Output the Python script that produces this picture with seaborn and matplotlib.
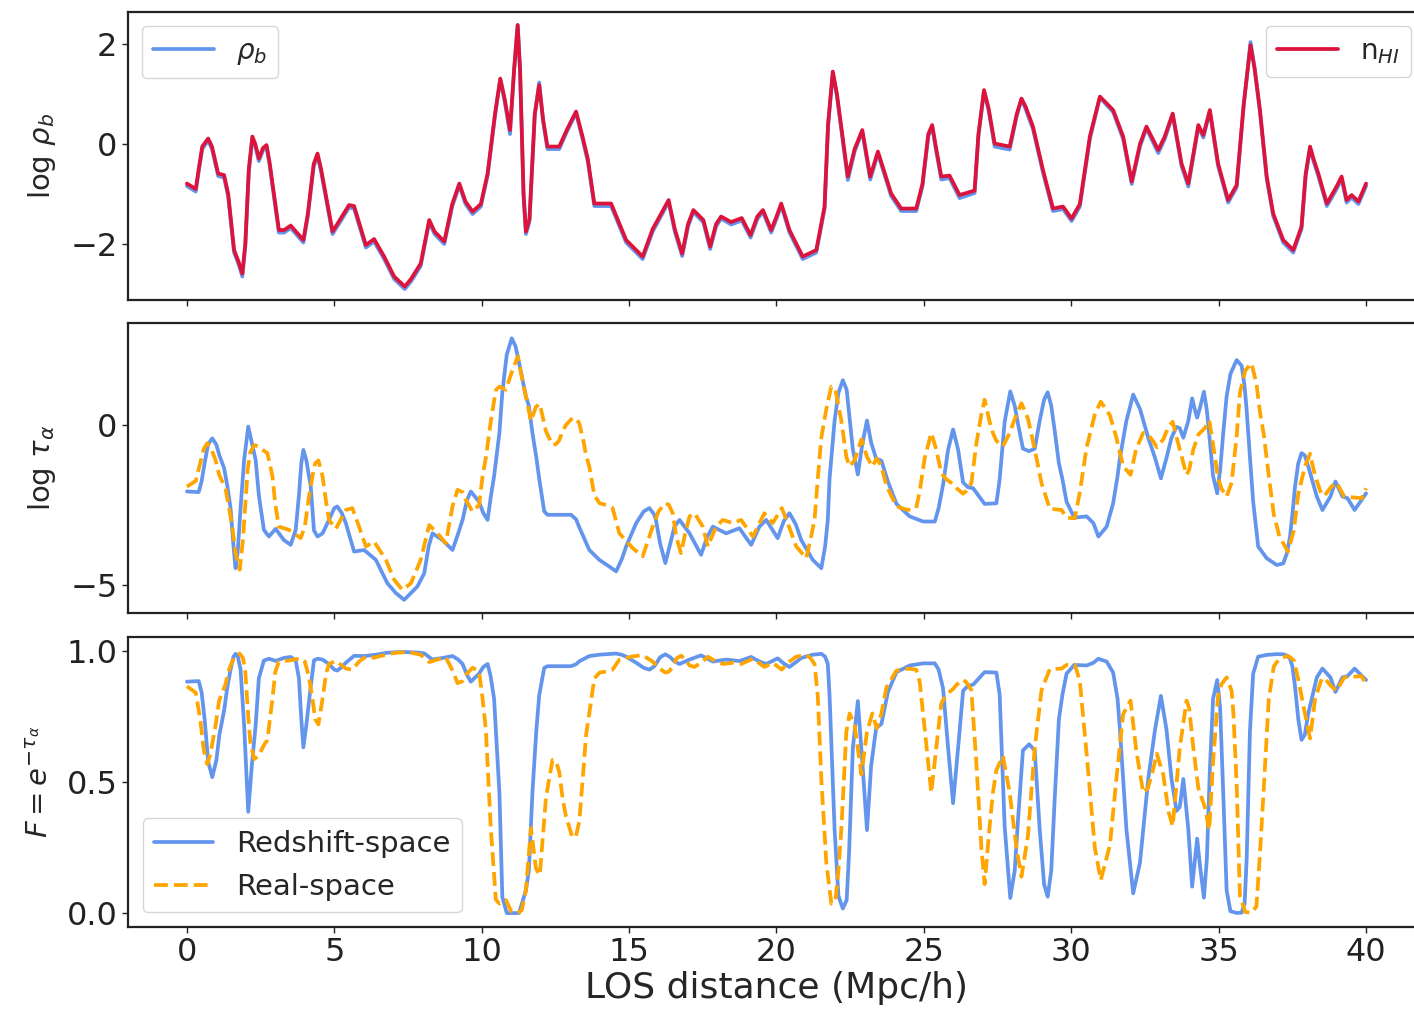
import numpy as np
import matplotlib
matplotlib.use("Agg")
import matplotlib.pyplot as plt
import seaborn as sns

# ---------------- data ----------------
# Line-of-sight positions (Mpc/h) for the density panel
nhi_x = [0.0, 0.3, 0.4, 0.52, 0.72, 0.85, 1.06, 1.26, 1.4, 1.6,
         1.75, 1.88, 1.98, 2.1, 2.22, 2.32, 2.44, 2.58, 2.7, 2.8,
         3.12, 3.3, 3.52, 3.7, 3.95, 4.1, 4.3, 4.43, 4.55, 4.94,
         5.1, 5.5, 5.67, 6.07, 6.35, 6.69, 7.03, 7.39, 7.6, 7.93,
         8.22, 8.4, 8.73, 9.0, 9.24, 9.45, 9.69, 9.97, 10.2, 10.45,
         10.63, 10.78, 10.96, 11.1, 11.22, 11.3, 11.42, 11.5, 11.62, 11.8,
         11.95, 12.08, 12.23, 12.63, 12.9, 13.2, 13.42, 13.6, 13.82, 14.39,
         14.9, 15.46, 15.8, 16.34, 16.55, 16.8, 17.0, 17.18, 17.52, 17.75,
         17.95, 18.12, 18.46, 18.82, 19.12, 19.35, 19.54, 19.82, 20.0, 20.16,
         20.3, 20.44, 20.89, 21.35, 21.63, 21.75, 21.91, 22.05, 22.42, 22.65,
         22.91, 23.05, 23.18, 23.44, 23.89, 24.23, 24.74, 24.95, 25.15, 25.28,
         25.42, 25.59, 25.87, 26.21, 26.72, 26.85, 27.04, 27.2, 27.4, 27.91,
         28.15, 28.31, 28.45, 28.7, 29.04, 29.38, 29.72, 30.01, 30.29, 30.63,
         30.97, 31.42, 31.76, 32.05, 32.33, 32.55, 32.95, 33.17, 33.44, 33.74,
         33.97, 34.31, 34.48, 34.7, 34.98, 35.32, 35.61, 35.85, 36.08, 36.22,
         36.4, 36.63, 36.85, 37.19, 37.53, 37.81, 37.95, 38.1, 38.22, 38.38,
         38.67, 39.0, 39.17, 39.34, 39.51, 39.74, 40.0]

# log neutral hydrogen density
log_nhi = [-0.79, -0.90, -0.50, -0.05, 0.11, -0.05, -0.59, -0.62, -1.00, -2.12,
           -2.35, -2.59, -2.00, -0.50, 0.15, 0.00, -0.29, -0.08, -0.02, -0.35,
           -1.72, -1.72, -1.63, -1.75, -1.92, -1.40, -0.40, -0.19, -0.50, -1.75,
           -1.60, -1.22, -1.24, -2.02, -1.90, -2.25, -2.65, -2.85, -2.70, -2.39,
           -1.52, -1.75, -1.95, -1.20, -0.79, -1.15, -1.35, -1.20, -0.59, 0.60,
           1.31, 0.90, 0.28, 1.50, 2.38, 1.50, -1.00, -1.75, -1.50, 0.60,
           1.18, 0.50, -0.05, -0.05, 0.30, 0.65, 0.15, -0.30, -1.19, -1.19,
           -1.92, -2.25, -1.70, -1.12, -1.70, -2.19, -1.60, -1.32, -1.52, -2.05,
           -1.60, -1.45, -1.56, -1.48, -1.82, -1.45, -1.32, -1.72, -1.45, -1.19,
           -1.45, -1.72, -2.25, -2.12, -1.25, 0.40, 1.45, 1.00, -0.65, -0.10,
           0.28, -0.20, -0.65, -0.15, -0.99, -1.29, -1.29, -0.80, 0.20, 0.38,
           -0.10, -0.65, -0.63, -1.02, -0.93, 0.20, 1.08, 0.70, 0.01, -0.05,
           0.60, 0.91, 0.75, 0.35, -0.52, -1.29, -1.25, -1.49, -1.20, 0.15,
           0.95, 0.68, 0.15, -0.75, 0.00, 0.35, -0.12, 0.15, 0.61, -0.39,
           -0.79, 0.38, 0.18, 0.68, -0.39, -1.12, -0.82, 0.80, 1.98, 1.50,
           0.68, -0.65, -1.39, -1.92, -2.12, -1.65, -0.60, -0.05, -0.30, -0.59,
           -1.19, -0.85, -0.65, -1.12, -1.02, -1.15, -0.79]

# log baryon density
log_rho = [-0.84, -0.95, -0.55, -0.10, 0.07, -0.10, -0.64, -0.67, -1.05, -2.17,
           -2.40, -2.65, -2.05, -0.55, 0.11, -0.05, -0.34, -0.13, -0.06, -0.40,
           -1.77, -1.77, -1.68, -1.80, -1.97, -1.45, -0.45, -0.23, -0.55, -1.80,
           -1.65, -1.27, -1.29, -2.07, -1.95, -2.30, -2.70, -2.90, -2.75, -2.44,
           -1.56, -1.80, -2.00, -1.25, -0.83, -1.20, -1.40, -1.25, -0.63, 0.56,
           1.29, 0.85, 0.20, 1.48, 2.38, 1.48, -1.05, -1.80, -1.55, 0.58,
           1.23, 0.47, -0.10, -0.10, 0.26, 0.62, 0.10, -0.35, -1.24, -1.24,
           -1.97, -2.30, -1.75, -1.16, -1.75, -2.24, -1.65, -1.36, -1.57, -2.10,
           -1.65, -1.49, -1.61, -1.53, -1.87, -1.50, -1.36, -1.77, -1.50, -1.23,
           -1.50, -1.77, -2.30, -2.17, -1.30, 0.36, 1.42, 0.96, -0.72, -0.15,
           0.25, -0.25, -0.71, -0.19, -1.04, -1.34, -1.34, -0.85, 0.16, 0.35,
           -0.15, -0.71, -0.68, -1.08, -0.98, 0.15, 1.06, 0.66, -0.05, -0.11,
           0.56, 0.89, 0.70, 0.30, -0.57, -1.34, -1.30, -1.54, -1.25, 0.10,
           0.93, 0.64, 0.10, -0.80, -0.05, 0.31, -0.18, 0.10, 0.58, -0.44,
           -0.85, 0.34, 0.13, 0.65, -0.44, -1.17, -0.87, 0.78, 2.04, 1.52,
           0.64, -0.70, -1.44, -1.97, -2.17, -1.70, -0.65, -0.09, -0.35, -0.64,
           -1.24, -0.90, -0.70, -1.17, -1.07, -1.20, -0.84]

# Optical depth (natural log) in redshift space
rs_x = [0.0, 0.4, 0.5, 0.6, 0.72, 0.86, 1.0, 1.1, 1.26, 1.37,
        1.48, 1.58, 1.65, 1.72, 1.82, 1.94, 2.08, 2.2, 2.33, 2.44,
        2.61, 2.78, 3.01, 3.29, 3.52, 3.69, 3.8, 3.88, 3.95, 4.05,
        4.2, 4.31, 4.43, 4.6, 4.82, 5.0, 5.1, 5.25, 5.39, 5.67,
        6.01, 6.41, 6.8, 7.09, 7.37, 7.82, 8.05, 8.2, 8.33, 8.67,
        9.01, 9.2, 9.35, 9.5, 9.63, 9.91, 10.05, 10.2, 10.3, 10.42,
        10.6, 10.7, 10.85, 11.02, 11.15, 11.27, 11.5, 11.6, 11.72, 11.85,
        11.95, 12.12, 12.23, 13.03, 13.2, 13.31, 13.65, 13.99, 14.33, 14.56,
        14.75, 14.9, 15.24, 15.5, 15.69, 15.85, 15.91, 16.05, 16.23, 16.4,
        16.54, 16.71, 17.05, 17.44, 17.65, 17.84, 18.29, 18.74, 19.14, 19.42,
        19.65, 20.04, 20.25, 20.44, 20.65, 20.84, 21.23, 21.52, 21.65, 21.74,
        21.8, 21.97, 22.1, 22.25, 22.38, 22.46, 22.59, 22.76, 22.91, 23.07,
        23.21, 23.38, 23.56, 23.78, 24.07, 24.52, 24.97, 25.37, 25.5, 25.65,
        25.82, 25.99, 26.16, 26.33, 26.5, 26.67, 27.06, 27.46, 27.57, 27.74,
        27.93, 28.08, 28.2, 28.36, 28.57, 28.76, 28.93, 29.08, 29.2, 29.32,
        29.44, 29.58, 29.7, 29.84, 30.1, 30.52, 30.75, 30.92, 31.2, 31.42,
        31.57, 31.65, 31.87, 32.1, 32.33, 32.61, 32.84, 33.04, 33.23, 33.4,
        33.57, 33.68, 33.8, 33.97, 34.1, 34.2, 34.27, 34.37, 34.5, 34.6,
        34.7, 34.81, 34.95, 35.05, 35.16, 35.27, 35.4, 35.61, 35.78, 35.88,
        35.95, 36.06, 36.17, 36.34, 36.63, 36.97, 37.19, 37.32, 37.42, 37.5,
        37.59, 37.7, 37.81, 37.92, 38.04, 38.33, 38.52, 38.79, 38.96, 39.2,
        39.37, 39.61, 40.0]

rs_log_tau = [-2.08, -2.10, -1.75, -1.20, -0.60, -0.42, -0.62, -0.95, -1.35, -1.90,
              -2.60, -3.80, -4.48, -4.00, -2.60, -1.10, -0.05, -0.55, -1.09, -2.20,
              -3.28, -3.49, -3.25, -3.60, -3.75, -3.28, -2.20, -1.20, -0.78, -1.10,
              -1.93, -3.30, -3.49, -3.39, -2.97, -2.60, -2.55, -2.75, -3.07, -3.96,
              -3.91, -4.22, -4.95, -5.26, -5.47, -5.05, -4.64, -3.80, -3.39, -3.60,
              -3.91, -3.40, -2.97, -2.35, -2.08, -2.40, -2.75, -2.97, -2.30, -1.60,
              -0.25, 1.03, 2.20, 2.71, 2.45, 1.93, 0.89, 0.60, -0.25, -1.00,
              -1.68, -2.70, -2.81, -2.81, -2.95, -3.20, -3.91, -4.22, -4.43, -4.58,
              -4.20, -3.80, -3.07, -2.70, -2.60, -2.80, -2.97, -3.70, -4.32, -3.70,
              -3.18, -2.97, -3.39, -4.06, -3.50, -3.18, -3.39, -3.23, -3.75, -3.18,
              -2.97, -3.54, -3.00, -2.76, -3.10, -3.60, -4.22, -4.48, -3.80, -2.97,
              -1.68, 0.13, 1.00, 1.40, 1.10, 0.40, -0.77, -1.55, -0.60, 0.14,
              -0.55, -1.05, -1.12, -1.77, -2.47, -2.86, -3.02, -3.02, -2.60, -1.87,
              -0.78, -0.14, -0.77, -1.80, -1.95, -1.98, -2.47, -2.45, -1.70, 0.10,
              1.05, 0.60, 0.00, -0.74, -0.82, -0.74, 0.14, 0.80, 1.02, 0.60,
              -0.20, -1.20, -1.70, -2.40, -2.90, -2.86, -3.07, -3.49, -3.18, -2.45,
              -1.60, -1.03, 0.13, 0.95, 0.50, -0.40, -1.03, -1.67, -1.03, -0.40,
              -0.06, -0.10, -0.40, 0.13, 0.83, 0.45, 0.23, 0.55, 1.04, 0.45,
              -0.50, -1.60, -2.14, -1.40, -0.20, 0.90, 1.60, 2.03, 1.85, 1.20,
              0.45, -1.00, -2.40, -3.80, -4.17, -4.38, -4.33, -4.00, -3.49, -2.80,
              -1.93, -1.20, -0.88, -0.95, -1.30, -2.24, -2.66, -2.24, -1.77, -2.24,
              -2.29, -2.66, -2.14]

# Optical depth (natural log) in real space
re_x = [0.0, 0.3, 0.45, 0.57, 0.69, 0.8, 0.97, 1.09, 1.31, 1.43,
        1.54, 1.65, 1.79, 1.9, 1.98, 2.06, 2.15, 2.28, 2.45, 2.6,
        2.73, 2.9, 3.0, 3.12, 3.46, 3.86, 4.0, 4.13, 4.26, 4.35,
        4.46, 4.6, 4.72, 4.82, 5.05, 5.39, 5.61, 5.84, 6.07, 6.35,
        6.75, 7.03, 7.31, 7.6, 7.93, 8.22, 8.5, 8.78, 9.01, 9.18,
        9.35, 9.46, 9.69, 9.91, 10.03, 10.14, 10.31, 10.48, 10.6, 10.82,
        11.0, 11.22, 11.36, 11.5, 11.67, 11.84, 11.97, 12.18, 12.4, 12.52,
        12.63, 12.74, 12.86, 13.08, 13.2, 13.31, 13.45, 13.54, 13.65, 13.82,
        14.0, 14.22, 14.44, 14.67, 15.12, 15.46, 15.8, 16.0, 16.23, 16.35,
        16.48, 16.6, 16.76, 16.9, 17.05, 17.22, 17.5, 17.67, 17.95, 18.18,
        18.52, 18.8, 19.2, 19.59, 19.87, 20.18, 20.38, 20.67, 21.01, 21.15,
        21.29, 21.4, 21.52, 21.69, 21.86, 22.0, 22.1, 22.2, 22.37, 22.48,
        22.65, 22.88, 23.07, 23.25, 23.4, 23.56, 23.73, 24.07, 24.46, 24.63,
        24.74, 24.86, 25.03, 25.25, 25.42, 25.59, 25.76, 25.99, 26.1, 26.33,
        26.44, 26.61, 26.78, 26.95, 27.06, 27.23, 27.34, 27.46, 27.68, 27.91,
        28.14, 28.31, 28.53, 28.76, 28.99, 29.27, 29.67, 29.84, 30.12, 30.29,
        30.52, 30.8, 31.0, 31.31, 31.53, 31.76, 32.01, 32.2, 32.44, 32.6,
        32.78, 32.9, 33.12, 33.3, 33.44, 33.68, 33.91, 34.0, 34.14, 34.31,
        34.53, 34.68, 34.81, 34.98, 35.1, 35.27, 35.44, 35.5, 35.61, 35.72,
        35.9, 36.11, 36.28, 36.4, 36.53, 36.7, 36.87, 37.06, 37.35, 37.55,
        37.7, 37.93, 38.1, 38.27, 38.5, 38.6, 38.82, 39.0, 39.26, 39.85,
        40.0]

re_log_tau = [-1.93, -1.75, -1.20, -0.75, -0.57, -0.70, -1.09, -1.55, -2.00, -2.60,
              -3.20, -4.00, -4.53, -3.60, -2.50, -1.40, -0.85, -0.63, -0.68, -0.80,
              -0.88, -1.60, -2.50, -3.18, -3.28, -3.54, -3.18, -2.30, -1.60, -1.20,
              -1.11, -1.60, -2.40, -2.97, -3.25, -2.66, -2.60, -3.18, -3.80, -3.65,
              -4.22, -4.84, -5.16, -4.95, -4.22, -3.13, -3.39, -3.70, -2.55, -2.03,
              -2.10, -2.34, -2.71, -2.50, -1.60, -1.03, 0.13, 1.09, 1.20, 1.10,
              1.60, 2.14, 1.50, 0.89, 0.12, 0.57, 0.66, -0.20, -0.62, -0.60,
              -0.48, -0.20, 0.00, 0.22, 0.20, 0.05, -0.50, -0.95, -1.30, -2.20,
              -2.45, -2.50, -2.60, -3.39, -3.85, -4.11, -3.18, -2.70, -2.45, -2.50,
              -2.76, -3.50, -4.01, -3.40, -2.86, -2.76, -3.18, -3.80, -3.18, -2.97,
              -3.07, -2.97, -3.49, -2.76, -3.07, -2.60, -3.07, -3.80, -4.17, -3.60,
              -2.97, -1.68, -0.40, 0.50, 1.20, 1.10, 0.60, 0.13, -1.00, -1.30,
              -1.10, -0.45, -1.00, -1.30, -1.05, -1.30, -1.90, -2.55, -2.66, -2.62,
              -2.60, -2.06, -1.03, -0.25, -0.77, -1.50, -1.70, -1.85, -1.97, -2.15,
              -2.06, -1.82, -0.58, 0.33, 0.79, 0.10, -0.25, -0.50, -0.67, -0.25,
              0.33, 0.68, 0.20, -0.77, -1.82, -2.62, -2.66, -2.90, -2.92, -2.10,
              -0.70, 0.33, 0.73, 0.30, -0.40, -1.29, -1.56, -0.75, -0.25, -0.30,
              -0.51, -0.70, -0.45, -0.05, 0.10, -0.77, -1.56, -1.40, -0.77, -0.30,
              -0.10, 0.14, -0.60, -1.68, -2.00, -2.24, -1.80, -1.29, -0.34, 1.00,
              1.70, 1.93, 1.30, 0.40, -0.30, -1.60, -2.80, -3.49, -3.96, -3.30,
              -2.15, -1.29, -0.90, -1.60, -2.20, -2.20, -1.93, -1.80, -2.24, -2.29,
              -1.98]

x_ticks = [0, 5, 10, 15, 20, 25, 30, 35, 40]

# Transmitted flux follows from the optical depth: F = exp(-tau)
rs_flux = np.exp(-np.exp(np.array(rs_log_tau)))
re_flux = np.exp(-np.exp(np.array(re_log_tau)))

# ---------------- style ----------------
sns.set_theme(style="white")
plt.rcParams["font.family"] = ["DejaVu Sans"]
plt.rcParams["mathtext.fontset"] = "dejavusans"
plt.rcParams["axes.edgecolor"] = "#222222"
plt.rcParams["axes.linewidth"] = 1.6
plt.rcParams["xtick.bottom"] = True
plt.rcParams["ytick.left"] = True
plt.rcParams["xtick.major.size"] = 4
plt.rcParams["ytick.major.size"] = 4
plt.rcParams["xtick.major.width"] = 1.0
plt.rcParams["ytick.major.width"] = 1.0
plt.rcParams["xtick.color"] = "#222222"
plt.rcParams["ytick.color"] = "#222222"

BLUE = "cornflowerblue"
RED = "crimson"
ORANGE = "orange"
LW = 2.7

fig = plt.figure(figsize=(14.14, 10.13), dpi=100)
ax_rho = fig.add_axes([0.0905, 0.7038, 0.9173, 0.2843])
ax_tau = fig.add_axes([0.0905, 0.3949, 0.9173, 0.2863], sharex=ax_rho)
ax_flux = fig.add_axes([0.0905, 0.0849, 0.9173, 0.2863], sharex=ax_rho)

# ---- top: baryon density and neutral hydrogen ----
sns.lineplot(x=nhi_x, y=log_rho, ax=ax_rho, color=BLUE, lw=LW,
             estimator=None, sort=False)
sns.lineplot(x=nhi_x, y=log_nhi, ax=ax_rho, color=RED, lw=LW,
             estimator=None, sort=False)
h_rho, h_nhi = ax_rho.lines[0], ax_rho.lines[1]
leg1 = ax_rho.legend([h_rho], [r"$\rho_b$"], loc="upper left", fontsize=20,
                     handlelength=2.2, borderaxespad=0.5)
ax_rho.add_artist(leg1)
ax_rho.legend([h_nhi], [r"n$_{HI}$"], loc="upper right", fontsize=20,
              handlelength=2.2, borderaxespad=0.5)
ax_rho.set_ylim(-3.12, 2.64)
ax_rho.set_yticks([-2, 0, 2])
ax_rho.set_ylabel(r"log $\rho_b$", fontsize=21, labelpad=9)

# ---- middle: optical depth ----
sns.lineplot(x=rs_x, y=rs_log_tau, ax=ax_tau, color=BLUE, lw=LW,
             estimator=None, sort=False)
sns.lineplot(x=re_x, y=re_log_tau, ax=ax_tau, color=ORANGE, lw=LW,
             linestyle="--", estimator=None, sort=False)
ax_tau.set_ylim(-5.88, 3.19)
ax_tau.set_yticks([-5, 0])
ax_tau.set_ylabel(r"log $\tau_\alpha$", fontsize=21, labelpad=9)

# ---- bottom: transmitted flux ----
sns.lineplot(x=rs_x, y=rs_flux, ax=ax_flux, color=BLUE, lw=LW,
             estimator=None, sort=False, label="Redshift-space")
sns.lineplot(x=re_x, y=re_flux, ax=ax_flux, color=ORANGE, lw=LW,
             linestyle="--", estimator=None, sort=False, label="Real-space")
ax_flux.legend(loc="lower left", fontsize=21, handlelength=2.0,
               borderaxespad=0.5)
ax_flux.set_ylim(-0.053, 1.053)
ax_flux.set_yticks([0.0, 0.5, 1.0])
ax_flux.set_yticklabels(["0.0", "0.5", "1.0"])
ax_flux.set_ylabel(r"$F = e^{-\tau_\alpha}$", fontsize=21, labelpad=9)

ax_flux.set_xlim(-2, 42)
ax_flux.set_xticks(x_ticks)
ax_flux.set_xlabel("LOS distance (Mpc/h)", fontsize=26, labelpad=2)

for ax in (ax_rho, ax_tau, ax_flux):
    ax.tick_params(axis="both", labelsize=23, direction="out")
    for side in ("top", "right", "left", "bottom"):
        ax.spines[side].set_visible(True)
for ax in (ax_rho, ax_tau):
    ax.tick_params(axis="x", labelbottom=False)

fig.align_ylabels([ax_rho, ax_tau, ax_flux])
fig.savefig("out.png", dpi=100)
